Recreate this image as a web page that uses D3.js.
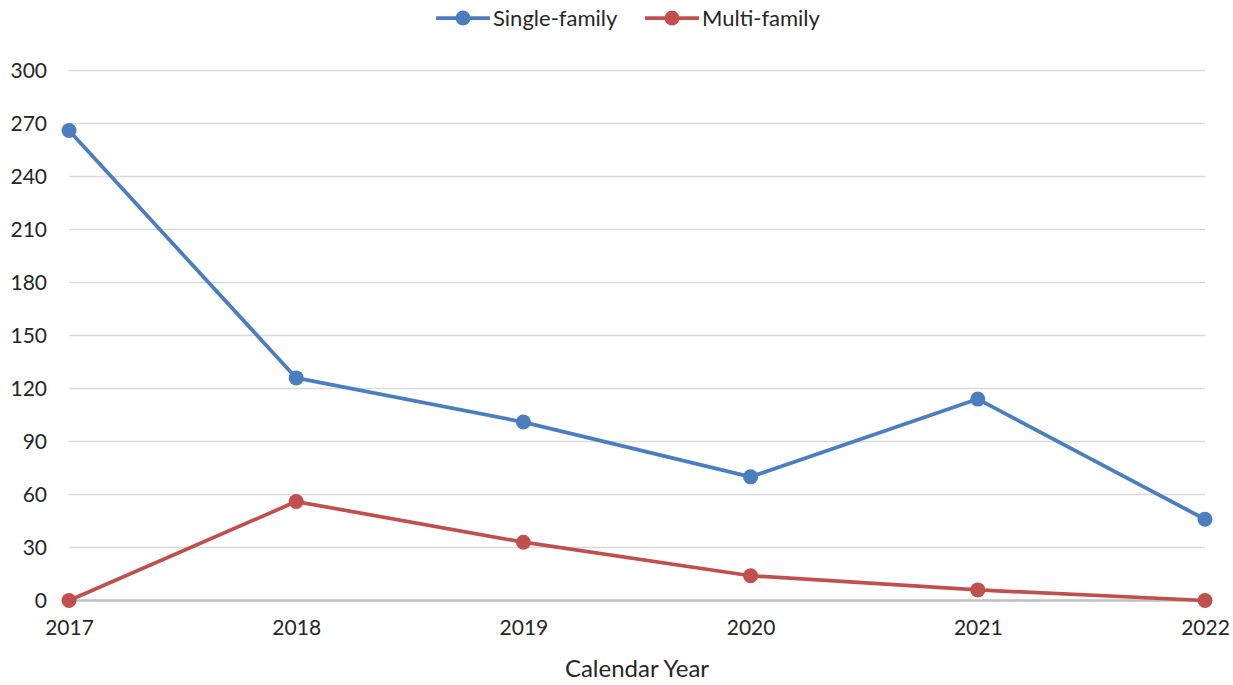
<!DOCTYPE html>
<html>
<head>
<meta charset="utf-8">
<script src="https://cdn.jsdelivr.net/npm/d3@7"></script>
<style>
  html, body { margin: 0; padding: 0; background: #fff; }
  svg { display: block; font-family: Lato, "Open Sans", sans-serif; }
</style>
</head>
<body>
<svg id="chart" width="1233" height="685"></svg>
<script>
// Permits by calendar year
const years = ["2017", "2018", "2019", "2020", "2021", "2022"];
const singleFamily = [266, 126, 101, 70, 114, 46];
const multiFamily = [0, 56, 33, 14, 6, 0];
const yTicks = [0, 30, 60, 90, 120, 150, 180, 210, 240, 270, 300];
const seriesNames = ["Single-family", "Multi-family"];
const seriesColors = ["#4a7ebf", "#c0504d"];

const svg = d3.select("#chart");
const plotLeft = 69, plotRight = 1205, plotTop = 70.5, plotBottom = 600.5;

const x = d3.scalePoint().domain(years).range([plotLeft, plotRight]);
const y = d3.scaleLinear().domain([0, 300]).range([plotBottom, plotTop]);

// Horizontal gridlines
svg.append("g")
  .selectAll("line")
  .data(yTicks.filter(d => d > 0))
  .join("line")
  .attr("x1", plotLeft).attr("x2", plotRight)
  .attr("y1", d => y(d)).attr("y2", d => y(d))
  .attr("stroke", "#d9d9d9").attr("stroke-width", 1.5);

// Baseline
svg.append("line")
  .attr("x1", plotLeft).attr("x2", plotRight)
  .attr("y1", y(0)).attr("y2", y(0))
  .attr("stroke", "#bfbfbf").attr("stroke-width", 2.5);

// Y axis labels
const yAxis = d3.axisLeft(y).tickValues(yTicks).tickSize(0).tickPadding(0);
const gy = svg.append("g").attr("transform", `translate(${plotLeft - 22},0)`).call(yAxis);
gy.select(".domain").remove();
gy.selectAll("text")
  .attr("font-size", 21).attr("fill", "#262626")
  .attr("font-family", "Lato, 'Open Sans', sans-serif");

// X axis labels
const xAxis = d3.axisBottom(x).tickSize(0).tickPadding(0);
const gx = svg.append("g").attr("transform", `translate(0,${plotBottom + 20})`).call(xAxis);
gx.select(".domain").remove();
gx.selectAll("text")
  .attr("font-size", 21).attr("fill", "#262626")
  .attr("font-family", "Lato, 'Open Sans', sans-serif");

// Axis title
svg.append("text")
  .attr("x", 637).attr("y", 677)
  .attr("text-anchor", "middle")
  .attr("font-size", 24).attr("fill", "#262626")
  .text("Calendar Year");

// Series lines and markers
const allSeries = [singleFamily, multiFamily];
const line = d3.line().x((d, i) => x(years[i])).y(d => y(d));

allSeries.forEach((vals, s) => {
  svg.append("path")
    .datum(vals)
    .attr("d", line)
    .attr("fill", "none")
    .attr("stroke", seriesColors[s])
    .attr("stroke-width", 3.75)
    .attr("stroke-linejoin", "round");
  svg.append("g")
    .selectAll("circle")
    .data(vals)
    .join("circle")
    .attr("cx", (d, i) => x(years[i]))
    .attr("cy", d => y(d))
    .attr("r", 7.5)
    .attr("fill", seriesColors[s]);
});

// Legend
const legendX = [436, 645];
const legend = svg.append("g");
seriesNames.forEach((name, s) => {
  const g = legend.append("g").attr("transform", `translate(${legendX[s]},18)`);
  g.append("line").attr("x1", 0).attr("x2", 54).attr("y1", 0).attr("y2", 0)
    .attr("stroke", seriesColors[s]).attr("stroke-width", 3.75);
  g.append("circle").attr("cx", 27).attr("cy", 0).attr("r", 7.5).attr("fill", seriesColors[s]);
  g.append("text").attr("x", 57).attr("y", 8)
    .attr("font-size", 22).attr("fill", "#262626").text(name);
});
</script>
</body>
</html>
